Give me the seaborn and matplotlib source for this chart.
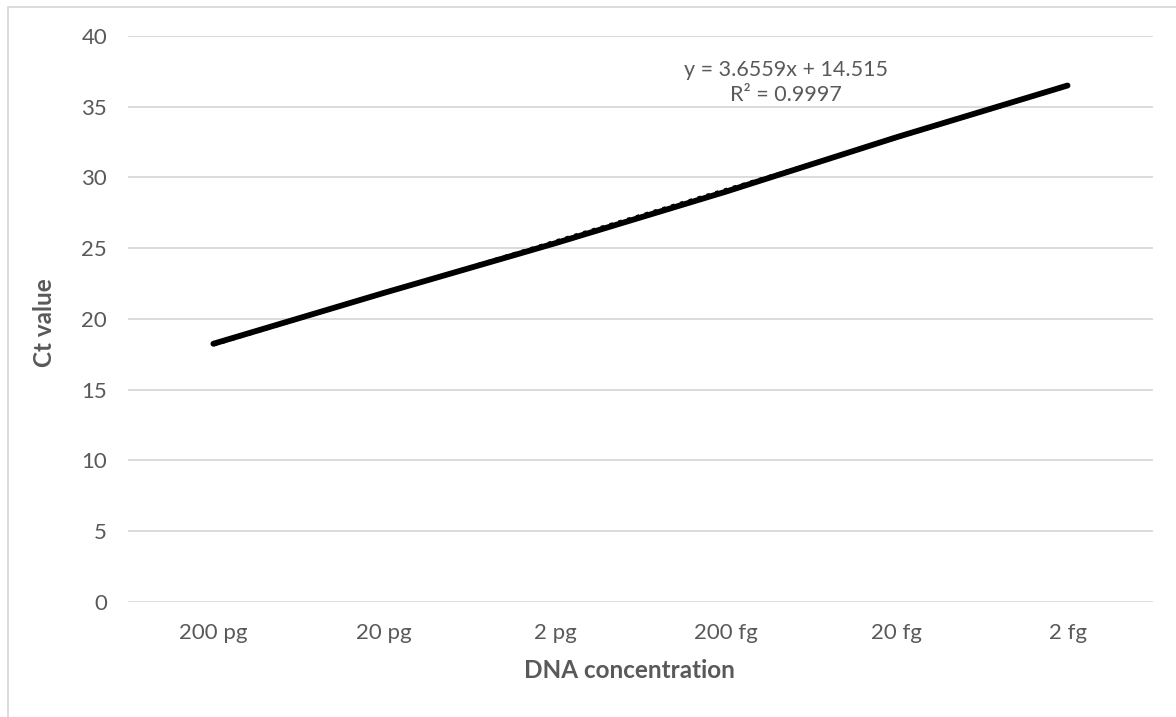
import numpy as np
import pandas as pd
import matplotlib
matplotlib.use("Agg")
import matplotlib.pyplot as plt
from matplotlib.patches import Rectangle
import seaborn as sns

# Standard curve: DNA amount dilution series vs. qPCR Ct
concentrations = ["200 pg", "20 pg", "2 pg", "200 fg", "20 fg", "2 fg"]
ct_values = [18.25, 21.85, 25.35, 29.0, 32.85, 36.5]

# Linear trendline (x = 1..n dilution index)
slope = 3.6559
intercept = 14.515
r_squared = 0.9997

y_ticks = [0, 5, 10, 15, 20, 25, 30, 35, 40]

sns.set_theme(style="white")
plt.rcParams["font.family"] = ["Lato", "DejaVu Sans"]

text_color = "#595959"
grid_color = "#d9d9d9"

fig = plt.figure(figsize=(11.76, 7.17), dpi=100)
ax = fig.add_axes([0.1088, 0.1604, 0.8716, 0.7894])

df = pd.DataFrame({"concentration": concentrations, "ct": ct_values})
sns.lineplot(data=df, x="concentration", y="ct", ax=ax, color="black",
             linewidth=4.2, solid_capstyle="round", sort=False)

index = np.arange(1, len(concentrations) + 1)
trend = slope * index + intercept
sns.lineplot(x=np.arange(len(concentrations)), y=trend, ax=ax, color="black",
             linewidth=2.5, linestyle=":")

ax.set_xlim(-0.5, len(concentrations) - 0.5)
ax.set_ylim(0, 40)
ax.set_yticks(y_ticks)
ax.set_xticks(range(len(concentrations)))
ax.set_xticklabels(concentrations)

ax.grid(axis="y", color=grid_color, linewidth=1.3)
ax.grid(axis="x", visible=False)
ax.set_axisbelow(True)
for s in ax.spines.values():
    s.set_visible(False)

ax.tick_params(axis="both", length=0, labelsize=16, labelcolor=text_color)
ax.tick_params(axis="y", pad=15)
ax.tick_params(axis="x", pad=15)

ax.set_xlabel("DNA concentration", fontsize=17.5, fontweight="bold", color=text_color)
ax.set_ylabel("Ct value", fontsize=17.5, fontweight="bold", color=text_color)
ax.xaxis.set_label_coords(0.489, -0.1219)
ax.xaxis.label.set_va("center")
ax.yaxis.set_label_coords(-0.081, 0.493)
ax.yaxis.label.set_va("center")

ax.text(3.35, 36.7, f"y = {slope}x + {intercept}\nR\u00b2 = {r_squared}",
        ha="center", va="center", multialignment="center",
        fontsize=15.5, color=text_color, linespacing=1.3)

# Chart-area frame
fig.patches.append(Rectangle((7.5 / 1176, -0.05), 1.1, 0.05 + (717 - 7) / 717,
                             transform=fig.transFigure, fill=False,
                             edgecolor=grid_color, linewidth=1.3, zorder=0))

fig.savefig("out.png", dpi=100, facecolor="white")
